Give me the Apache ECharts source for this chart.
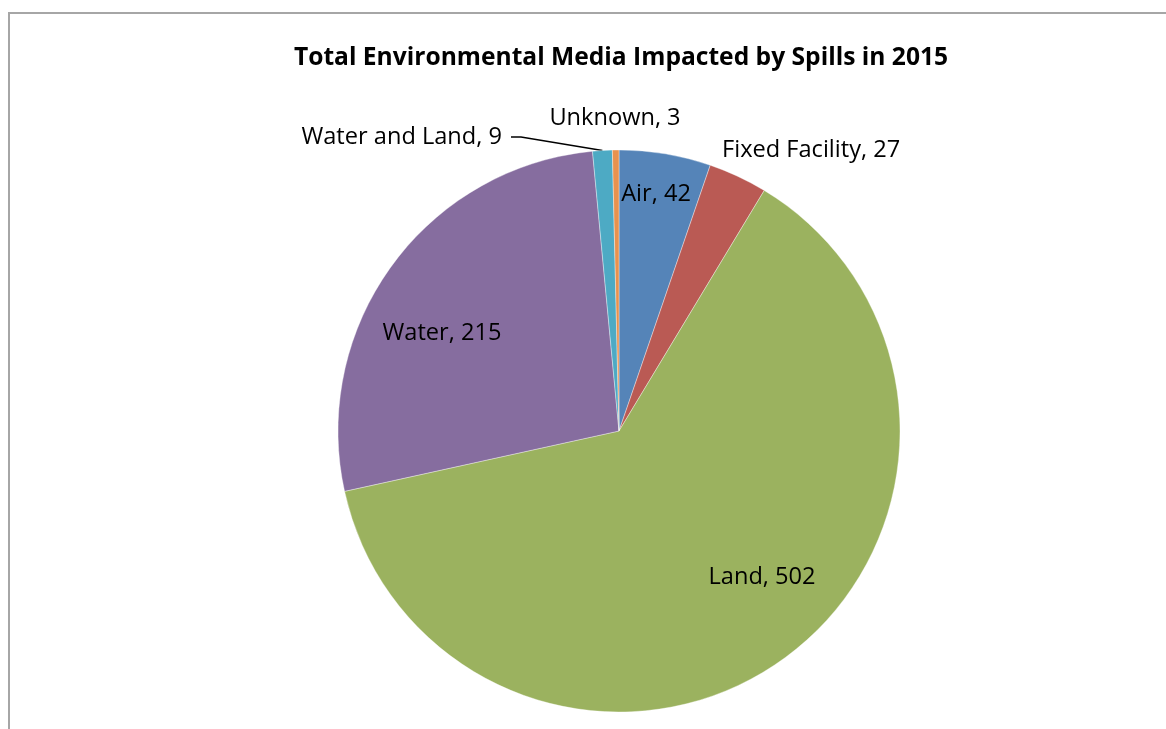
<!DOCTYPE html>
<html><head><meta charset="utf-8">
<script src="https://cdn.jsdelivr.net/npm/echarts@6/dist/echarts.min.js"></script>
<style>
html,body{margin:0;padding:0;background:#fff;}
#frame{position:absolute;left:8px;top:12px;width:1200px;height:800px;border-left:2px solid #a6a6a6;border-top:2px solid #a6a6a6;}
#c{position:absolute;left:0;top:0;width:1166px;height:729px;}
</style></head>
<body>
<div id="frame"></div>
<div id="c"></div>
<script>
const categories = ['Air', 'Fixed Facility', 'Land', 'Water', 'Water and Land', 'Unknown'];
const values = [42, 27, 502, 215, 9, 3];
const colors = ['#5584B8', '#BA5A54', '#9BB25F', '#866D9F', '#4DAAC4', '#E8924E'];
const titleText = 'Total Environmental Media Impacted by Spills in 2015';

// label anchor positions (pixel placement of the text boxes)
const labelPos = [
  {x: 656, y: 194, align: 'center'},
  {x: 722, y: 150, align: 'left'},
  {x: 762, y: 577, align: 'center'},
  {x: 442, y: 333, align: 'center'},
  {x: 511, y: 137, align: 'right'},
  {x: 615, y: 118, align: 'center'}
];
const showLine = [false, false, false, false, true, false];

const chart = echarts.init(document.getElementById('c'), null, {renderer: 'canvas'});
chart.setOption({
  animation: false,
  backgroundColor: 'transparent',
  title: {
    text: titleText,
    left: 616, top: 40, textAlign: 'center',
    textStyle: {fontFamily: 'Open Sans', fontWeight: 'bold', fontSize: 24.6, color: '#000'}
  },
  series: [{
    type: 'pie',
    center: [619, 431],
    radius: 281,
    startAngle: 90,
    clockwise: true,
    avoidLabelOverlap: false,
    itemStyle: {borderColor: 'rgba(255,255,255,0.6)', borderWidth: 0.6},
    label: {
      show: true,
      formatter: p => showLine[p.dataIndex]
        ? '{t|' + p.name + ', ' + p.value + '}{g|}'
        : p.name + ', ' + p.value,
      fontFamily: 'Open Sans', fontSize: 23.6, color: '#000',
      rich: {
        t: {fontFamily: 'Open Sans', fontSize: 23.6, color: '#000'},
        g: {width: 9}
      }
    },
    labelLine: {show: true, lineStyle: {color: '#000', width: 1.3}, length: 10, length2: 10},
    labelLayout: function (params) {
      const p = labelPos[params.dataIndex];
      return {x: p.x, y: p.y, align: p.align, verticalAlign: 'middle'};
    },
    data: categories.map((n, i) => ({
      name: n, value: values[i],
      itemStyle: {color: colors[i]},
      labelLine: {show: showLine[i]}
    }))
  }]
});
</script>
</body></html>
